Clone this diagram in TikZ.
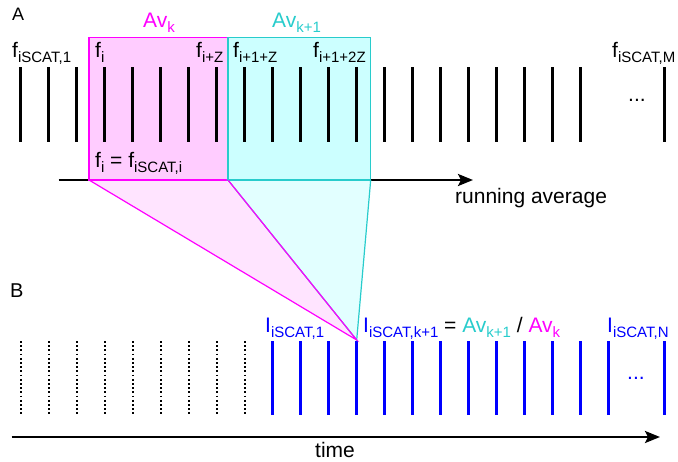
\documentclass[tikz,border=0pt]{standalone}
\usepackage{fontspec}
\setmainfont{Liberation Sans}
\usetikzlibrary{arrows.meta}

\definecolor{avpink}{RGB}{255,0,255}
\definecolor{avcyan}{RGB}{40,204,204}
\definecolor{ibblue}{RGB}{0,0,255}
\definecolor{pinkbox}{RGB}{255,204,255}
\definecolor{cyanbox}{RGB}{204,255,255}
\definecolor{pinkfan}{RGB}{255,228,255}
\definecolor{cyanfan}{RGB}{226,255,255}
\newcommand{\lowsub}[1]{\raisebox{-5pt}{\fontsize{15}{15}\selectfont #1}}

\begin{document}
\begin{tikzpicture}[x=1pt, y=-1pt,
  lbl/.style={inner sep=0pt, anchor=base west, font=\fontsize{21}{25}\selectfont},
  fbar/.style={line width=3pt},
  dbar/.style={line width=2pt, dash pattern=on 1.8pt off 2.4pt},
  ibar/.style={line width=3pt, ibblue},
  axis/.style={line width=2.4pt, -{Stealth[length=15pt, width=12pt, inset=3pt]}}]
\useasboundingbox (0,0) rectangle (678,461);

% corners of the two averaging windows
\coordinate (pa) at (89,37.7);
\coordinate (pb) at (228,180);
\coordinate (pc) at (89,180);
\coordinate (ca) at (228,37.7);
\coordinate (cb) at (370.7,180);
\coordinate (apex) at (356.7,340);
\coordinate (ra0) at (58.7,180);
\coordinate (ra1) at (473,180);
\coordinate (t0) at (11.7,437);
\coordinate (t1) at (660,437);

% funnels down to the ratio
\fill[pinkfan] (pc) -- (pb) -- (apex) -- cycle;
\fill[cyanfan] (pb) -- (cb) -- (apex) -- cycle;

\draw[axis] (ra0) -- (ra1);
\draw[axis] (t0) -- (t1);

% windows
\fill[pinkbox] (pa) rectangle (pb);
\fill[cyanbox] (ca) rectangle (cb);

% frames
\foreach \n in {0,...,20}
  \draw[fbar] ({20.7+28*\n},67) -- ++(0,75);
\draw[fbar] (664.7,67) -- ++(0,75);

% iSCAT images
\foreach \n in {0,...,8}
  \draw[dbar] ({20.7+28*\n},341) -- ++(0,74);
\foreach \n in {9,...,21}
  \draw[ibar] ({20.7+28*\n},341) -- ++(0,74);
\draw[ibar] (664.7,341) -- ++(0,74);

\draw[avpink, line width=1.5pt] (pa) rectangle (pb);
\draw[avcyan, line width=1.5pt] (ca) rectangle (cb);
\draw[avcyan, line width=1.2pt] (pb) -- (apex) -- (cb);
\draw[avpink, line width=1.2pt] (pc) -- (apex) -- (pb);

\node[lbl, font=\fontsize{18}{22}\selectfont] (lblA) at (12,20) {A};
\node[lbl, font=\fontsize{20}{24}\selectfont] (lblB) at (10,297) {B};
\node[lbl, avpink] (avk) at (143,27) {Av\lowsub{k}};
\node[lbl, avcyan] (avk1) at (272,27) {Av\lowsub{k+1}};

\node[lbl] (f1) at (12,57) {f\lowsub{iSCAT,1}};
\node[lbl] (fi) at (95,57) {f\lowsub{i}};
\node[lbl] (fiz) at (196,57) {f\lowsub{i+Z}};
\node[lbl] (fi1z) at (233,57) {f\lowsub{i+1+Z}};
\node[lbl] (fi12z) at (313,57) {f\lowsub{i+1+2Z}};
\node[lbl] (fM) at (612,57) {f\lowsub{iSCAT,M}};
\node[lbl] (fdots) at (628,101) {...};
\node[lbl] (fdef) at (95,167) {f\lowsub{i} = f\lowsub{iSCAT,i}};
\node[lbl] (runavg) at (455,203) {running average};

\node[lbl, ibblue] (I1) at (265,332) {I\lowsub{iSCAT,1}};
\node[lbl] (Ik) at (363,332) {\textcolor{ibblue}{I\lowsub{iSCAT,k+1}} = \textcolor{avcyan}{Av\lowsub{k+1}} / \textcolor{avpink}{Av\lowsub{k}}};
\node[lbl, ibblue] (IN) at (607,332) {I\lowsub{iSCAT,N}};
\node[lbl, ibblue] (idots) at (627,379) {...};
\node[lbl] (time) at (315,457) {time};
\end{tikzpicture}
\end{document}
